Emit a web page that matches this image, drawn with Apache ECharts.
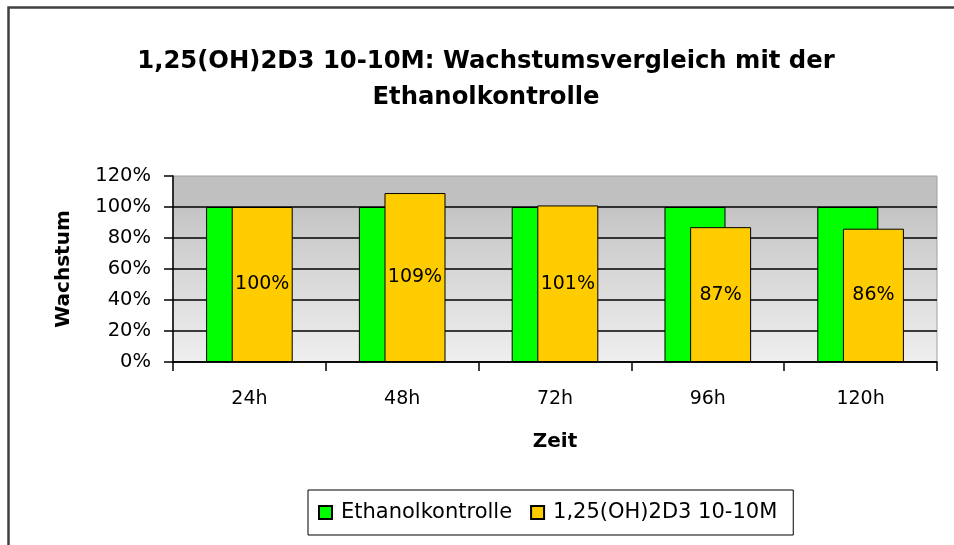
<!DOCTYPE html>
<html>
<head>
<meta charset="utf-8">
<script src="https://cdn.jsdelivr.net/npm/echarts@6/dist/echarts.min.js"></script>
<style>
html,body{margin:0;padding:0;background:#fff;}
#chart{width:954px;height:545px;}
</style>
</head>
<body>
<div id="chart"></div>
<script>
const categories = ['24h', '48h', '72h', '96h', '120h'];
const ethanolValues = [100, 100, 100, 100, 100];
const vitaminValues = [100, 109, 101, 87, 86];
const seriesNames = ['Ethanolkontrolle', '1,25(OH)2D3 10-10M'];
const yTicks = { min: 0, max: 120, interval: 20 };
const titleText = '1,25(OH)2D3 10-10M: Wachstumsvergleich mit der\nEthanolkontrolle';

const FONT = 'DejaVu Sans';
const chart = echarts.init(document.getElementById('chart'), null, { renderer: 'canvas' });
chart.setOption({
  animation: false,
  backgroundColor: '#ffffff',
  textStyle: { fontFamily: FONT, color: '#000' },
  title: {
    text: titleText,
    left: 481,
    textAlign: 'center',
    top: 39,
    textStyle: { fontFamily: FONT, fontSize: 24.3, fontWeight: 'bold', color: '#000', lineHeight: 36 }
  },
  graphic: [{
    type: 'rect',
    shape: { x: 8.5, y: 7.5, width: 1000, height: 600 },
    style: { fill: 'none', stroke: '#404040', lineWidth: 2.5 },
    silent: true
  }],
  legend: {
    data: seriesNames,
    left: 308,
    top: 490,
    icon: 'rect',
    itemWidth: 13,
    itemHeight: 13,
    itemGap: 18,
    padding: [12, 16, 12, 10],
    borderColor: '#000',
    borderWidth: 1,
    textStyle: { fontFamily: FONT, fontSize: 21, color: '#000', padding: [0, 0, 0, 4] }
  },
  grid: {
    left: 173, right: 17, top: 176, bottom: 183,
    show: true,
    borderColor: '#a0a0a0',
    borderWidth: 1,
    backgroundColor: new echarts.graphic.LinearGradient(0, 0, 0, 1, [
      { offset: 0, color: '#c0c0c0' },
      { offset: 0.17, color: '#c0c0c0' },
      { offset: 0.175, color: '#c4c4c4' },
      { offset: 0.5, color: '#d6d6d6' },
      { offset: 1, color: '#efefef' }
    ])
  },
  xAxis: {
    type: 'category',
    data: categories,
    name: 'Zeit',
    nameLocation: 'middle',
    nameGap: 70,
    nameTextStyle: { fontFamily: FONT, fontSize: 20, fontWeight: 'bold', color: '#000' },
    axisLine: { lineStyle: { color: '#000', width: 1.5 } },
    axisTick: { show: true, length: 9, lineStyle: { color: '#000', width: 1.5 } },
    axisLabel: { margin: 28, fontFamily: FONT, fontSize: 19, color: '#000' },
    splitLine: { show: false }
  },
  yAxis: {
    type: 'value',
    min: yTicks.min,
    max: yTicks.max,
    interval: yTicks.interval,
    name: 'Wachstum',
    nameLocation: 'middle',
    nameGap: 99,
    nameTextStyle: { fontFamily: FONT, fontSize: 20, fontWeight: 'bold', color: '#000' },
    axisLine: { show: true, lineStyle: { color: '#000', width: 1.5 } },
    axisTick: { show: true, length: 9, lineStyle: { color: '#000', width: 1.5 } },
    axisLabel: { margin: 22, fontFamily: FONT, fontSize: 19.5, color: '#000', formatter: '{value}%' },
    splitLine: { show: true, showMaxLine: false, lineStyle: { color: '#000', width: 1.5 } }
  },
  series: [{
    name: seriesNames[0],
    type: 'bar',
    data: ethanolValues,
    barWidth: 61,
    barGap: '-58%',
    itemStyle: { color: '#00ff00', borderColor: '#000', borderWidth: 1 }
  }, {
    name: seriesNames[1],
    type: 'bar',
    data: vitaminValues,
    barWidth: 61,
    barGap: '-58%',
    itemStyle: { color: '#ffcc00', borderColor: '#000', borderWidth: 1 },
    label: { show: true, position: 'inside', formatter: '{c}%', fontFamily: FONT, fontSize: 19, color: '#000' }
  }]
});
</script>
</body>
</html>
